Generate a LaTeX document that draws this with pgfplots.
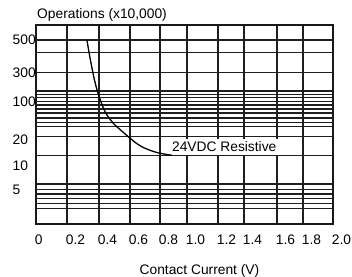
\documentclass[border=0pt]{standalone}
\usepackage{fontspec}
\setmainfont{Liberation Sans}
\usepackage{pgfplots}
\pgfplotsset{compat=1.18}
\begin{document}
\begin{tikzpicture}
\path[use as bounding box] (0,0) rectangle (352bp,277bp);
\begin{axis}[
  at={(36bp,53bp)}, anchor=south west,
  scale only axis, width=297bp, height=199bp,
  xmin=0, xmax=2, ymin=0, ymax=199,
  font=\fontsize{13.8bp}{16bp}\selectfont,
  /pgf/number format/assume math mode=true,
  axis line style={line width=1.8bp, black!90},
  major tick length=0pt,
  xtick={0,0.2088,0.4242,0.6330,0.8350,1.0168,1.2256,1.4007,1.6229,1.7980,2.0},
  xticklabels={0,0.2,0.4,0.6,0.8,1.0,1.2,1.4,1.6,1.8,2.0},
  xmajorgrids,
  ytick={184,151,122,84.5,58.5,34},
  yticklabels={500,300,100,20,10,5},
  extra y ticks={184,171.3,151.3,133,129.7,126.3,122.7,119,115,111,106,101.7,97.2,87.3,68.3,40,34.5,30,25.5,20.5,15.5},
  extra y tick labels={},
  extra y tick style={grid=major, major tick length=0pt},
  major grid style={line width=1.3bp, black!88},
  xticklabel style={anchor=base west, inner sep=0pt, xshift=-1.3bp, yshift=-21bp},
  yticklabel style={anchor=west, inner sep=0pt, xshift=-23.5bp},
  every axis x label/.style={at={(rel axis cs:0.5,0)}, anchor=base, inner sep=0pt, xshift=15bp, yshift=-50bp},
  every axis y label/.style={at={(rel axis cs:0,1)}, anchor=base west, inner sep=0pt, xshift=1bp, yshift=6.7bp},
  xlabel={Contact Current (V)},
  ylabel={Operations (x10,000)},
]
\node[fill=white, inner xsep=1.5bp, inner ysep=2.5bp, anchor=west] at (axis cs:0.905,77) {24VDC Resistive};
\addplot[line width=1.3bp, black, smooth, tension=0.4] coordinates {
(0.3434,183.5) (0.3603,169) (0.3751,157.3) (0.3906,146) (0.4074,136)
(0.4263,127) (0.4478,118) (0.4714,110.5) (0.4869,107) (0.5253,100)
(0.5657,94.5) (0.6215,87.3) (0.6734,81) (0.7226,76.5) (0.7811,73)
(0.8350,70.7) (0.9024,69) (0.9160,68.8)
};
\end{axis}
\end{tikzpicture}
\end{document}
